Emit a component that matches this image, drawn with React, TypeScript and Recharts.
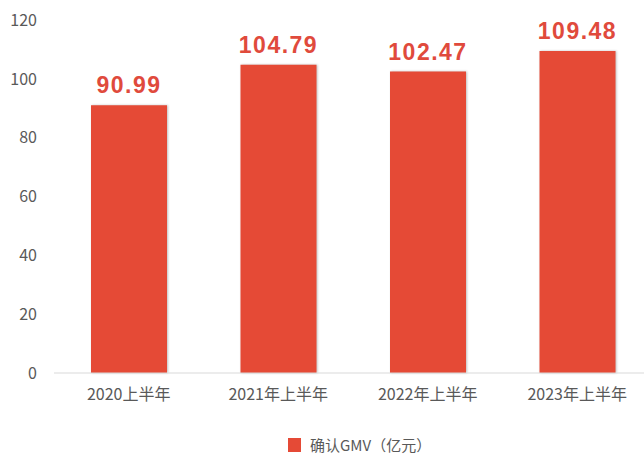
import React from 'react';
import { BarChart, Bar, XAxis, YAxis, LabelList, Legend } from 'recharts';

const categories = ['2020上半年', '2021年上半年', '2022年上半年', '2023年上半年'];
const gmvValues = [90.99, 104.79, 102.47, 109.48];
const yTicks = [0, 20, 40, 60, 80, 100, 120];
const seriesName = '确认GMV（亿元）';

const data = categories.map((c, i) => ({ name: c, gmv: gmvValues[i] }));

const FONT = '"Noto Sans CJK SC", "Noto Sans", sans-serif';
const BAR_COLOR = '#e54a36';

const LegendContent = () => (
  <div style={{ display: 'flex', alignItems: 'center', fontFamily: FONT, fontSize: 15, color: '#595959' }}>
    <span style={{ display: 'inline-block', width: 13, height: 14, background: BAR_COLOR, marginRight: 9 }} />
    <span>{seriesName}</span>
  </div>
);

export default function App() {
  return (
    <div style={{ position: 'absolute', left: 0, top: 0, width: 644, height: 454, overflow: 'hidden', background: '#fff' }}>
      <BarChart width={652} height={454} data={data} margin={{ top: 20, right: 0, left: 0, bottom: 51 }}>
        <XAxis
          dataKey="name"
          height={30}
          tickLine={false}
          axisLine={{ stroke: '#d9d9d9' }}
          tick={{ fill: '#595959', fontSize: 16, fontFamily: FONT }}
          tickMargin={10}
        />
        <YAxis
          width={54}
          domain={[0, 120]}
          ticks={yTicks}
          axisLine={false}
          tickLine={false}
          tickMargin={11}
          tick={{ fill: '#595959', fontSize: 16, fontFamily: FONT }}
        />
        <Legend
          verticalAlign="middle"
          align="center"
          content={<LegendContent />}
          wrapperStyle={{ position: 'absolute', top: 434, left: 288, width: 200 }}
        />
        <Bar
          dataKey="gmv"
          name={seriesName}
          fill={BAR_COLOR}
          barSize={76}
          isAnimationActive={false}
          style={{ filter: 'drop-shadow(1px 0px 1px rgba(0,0,0,0.25))' }}
        >
          <LabelList
            dataKey="gmv"
            position="top"
            offset={12}
            fill="#e04a3c"
            style={{ fontSize: 23, fontWeight: 'bold', fontFamily: '"Liberation Sans", Arial, sans-serif', letterSpacing: 1.5 }}
          />
        </Bar>
      </BarChart>
    </div>
  );
}
